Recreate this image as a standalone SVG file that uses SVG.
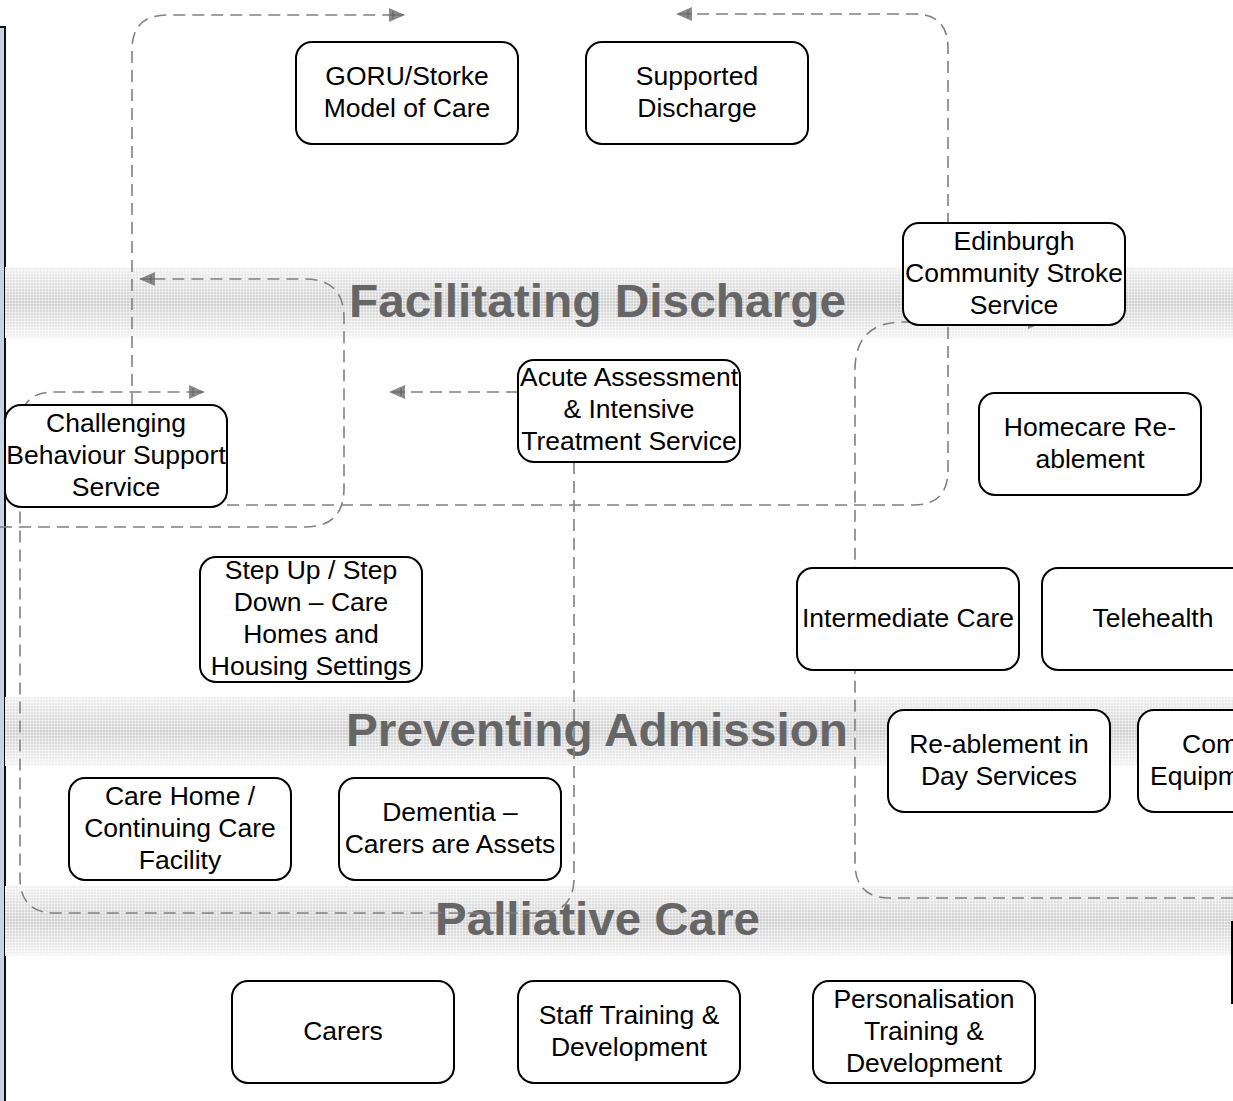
<svg xmlns="http://www.w3.org/2000/svg" width="1233" height="1101" viewBox="0 0 1233 1101">
  <defs>
    <linearGradient id="bandFill" x1="0" y1="0" x2="0" y2="1">
      <stop offset="0" stop-color="#f0f0f0"/>
      <stop offset="0.5" stop-color="#cfcfcf"/>
      <stop offset="1" stop-color="#f4f4f4"/>
    </linearGradient>
    <pattern id="bandGrid" width="3" height="3" patternUnits="userSpaceOnUse">
      <rect x="0" y="0" width="3" height="1" fill="#ffffff" fill-opacity="0.45"/>
      <rect x="0" y="0" width="1" height="3" fill="#ffffff" fill-opacity="0.45"/>
    </pattern>
    <marker id="arrow" viewBox="0 0 16 14" refX="15" refY="7" markerWidth="16" markerHeight="14" markerUnits="userSpaceOnUse" orient="auto">
      <path d="M0,0 L16,7 L0,14 Z" fill="#8a8a8a"/>
      <path d="M4,3 V11 M0,7 H14" stroke="#555" stroke-width="0.8"/>
    </marker>
  </defs>
  <style>
    .band { fill: url(#bandFill); }
    .grid { fill: url(#bandGrid); }
    .title { font-family: "Liberation Sans", Arial, sans-serif; font-weight: bold; font-size: 46px; fill: #666666; }
    .box { fill: #ffffff; stroke: #000000; stroke-width: 2; }
    .label { font-family: "Liberation Sans", Arial, sans-serif; font-size: 26.5px; fill: #000000; text-anchor: middle; }
    .start { text-anchor: start; }
    .flow { fill: none; stroke: #808080; stroke-width: 1.6; stroke-dasharray: 12 7; }
  </style>

  <rect width="1233" height="1101" fill="#ffffff"/>

  <!-- side panel on the left edge -->
  <rect x="-20" y="27" width="25" height="1100" fill="#c6d4e6" stroke="#111111" stroke-width="2"/>

  <!-- horizontal theme bands -->
  <g id="bands">
    <rect class="band" x="5" y="267" width="1228" height="71"/>
    <rect class="grid" x="5" y="267" width="1228" height="71"/>
    <rect class="band" x="5" y="697" width="1228" height="69"/>
    <rect class="grid" x="5" y="697" width="1228" height="69"/>
    <rect class="band" x="5" y="886" width="1228" height="70"/>
    <rect class="grid" x="5" y="886" width="1228" height="70"/>
    <text class="title" x="349" y="317" textLength="497" lengthAdjust="spacingAndGlyphs">Facilitating Discharge</text>
    <text class="title" x="346" y="746" textLength="502" lengthAdjust="spacingAndGlyphs">Preventing Admission</text>
    <text class="title" x="435" y="935" textLength="325" lengthAdjust="spacingAndGlyphs">Palliative Care</text>
  </g>

  <!-- dashed flow connectors -->
  <g id="connectors">
    <path class="flow" d="M132,405 V50 Q132,15 167,15 H404" marker-end="url(#arrow)"/>
    <path class="flow" d="M227,505 H914 Q948,505 948,470 V48 Q948,14 914,14 H677" marker-end="url(#arrow)"/>
    <path class="flow" d="M0,527 H305 Q344,527 344,488 V318 Q344,279 305,279 H140" marker-end="url(#arrow)"/>
    <path class="flow" d="M574,462 V878 Q574,913 539,913 H55 Q20,913 20,878 V426 Q20,392 54,392 H204" marker-end="url(#arrow)"/>
    <path class="flow" d="M518,392 H390" marker-end="url(#arrow)"/>
    <path class="flow" d="M1233,898 H890 Q855,898 855,863 V370 Q855,322 903,322 H1043" marker-end="url(#arrow)"/>
  </g>

  <!-- service nodes -->
  <g id="goru">
    <rect class="box" x="296" y="42" width="222" height="102" rx="16"/>
    <text class="label" x="407" y="85">GORU/Storke</text>
    <text class="label" x="407" y="117">Model of Care</text>
  </g>
  <g id="supported-discharge">
    <rect class="box" x="586" y="42" width="222" height="102" rx="16"/>
    <text class="label" x="697" y="85">Supported</text>
    <text class="label" x="697" y="117">Discharge</text>
  </g>
  <g id="edinburgh-stroke">
    <rect class="box" x="903" y="223" width="222" height="102" rx="16"/>
    <text class="label" x="1014" y="250">Edinburgh</text>
    <text class="label" x="1014" y="282">Community Stroke</text>
    <text class="label" x="1014" y="314">Service</text>
  </g>
  <g id="acute-assessment">
    <rect class="box" x="518" y="360" width="222" height="102" rx="16"/>
    <text class="label" x="629" y="386">Acute Assessment</text>
    <text class="label" x="629" y="418">&amp; Intensive</text>
    <text class="label" x="629" y="450">Treatment Service</text>
  </g>
  <g id="challenging-behaviour">
    <rect class="box" x="5" y="405" width="222" height="102" rx="16"/>
    <text class="label" x="116" y="432">Challenging</text>
    <text class="label" x="116" y="464">Behaviour Support</text>
    <text class="label" x="116" y="496">Service</text>
  </g>
  <g id="homecare-reablement">
    <rect class="box" x="979" y="393" width="222" height="102" rx="16"/>
    <text class="label" x="1090" y="436">Homecare Re-</text>
    <text class="label" x="1090" y="468">ablement</text>
  </g>
  <g id="step-up-step-down">
    <rect class="box" x="200" y="557" width="222" height="125" rx="16"/>
    <text class="label" x="311" y="579">Step Up / Step</text>
    <text class="label" x="311" y="611">Down – Care</text>
    <text class="label" x="311" y="643">Homes and</text>
    <text class="label" x="311" y="675">Housing Settings</text>
  </g>
  <g id="intermediate-care">
    <rect class="box" x="797" y="568" width="222" height="102" rx="16"/>
    <text class="label" x="908" y="627">Intermediate Care</text>
  </g>
  <g id="telehealth">
    <rect class="box" x="1042" y="568" width="222" height="102" rx="16"/>
    <text class="label" x="1153" y="627">Telehealth</text>
  </g>
  <g id="day-services">
    <rect class="box" x="888" y="710" width="222" height="102" rx="16"/>
    <text class="label" x="999" y="753">Re-ablement in</text>
    <text class="label" x="999" y="785">Day Services</text>
  </g>
  <g id="community-equipment">
    <rect class="box" x="1138" y="710" width="222" height="102" rx="16"/>
    <text class="label start" x="1182" y="753">Com</text>
    <text class="label start" x="1150" y="785">Equipm</text>
  </g>
  <g id="care-home">
    <rect class="box" x="69" y="778" width="222" height="102" rx="16"/>
    <text class="label" x="180" y="805">Care Home /</text>
    <text class="label" x="180" y="837">Continuing Care</text>
    <text class="label" x="180" y="869">Facility</text>
  </g>
  <g id="dementia">
    <rect class="box" x="339" y="778" width="222" height="102" rx="16"/>
    <text class="label" x="450" y="821">Dementia –</text>
    <text class="label" x="450" y="853">Carers are Assets</text>
  </g>
  <g id="carers">
    <rect class="box" x="232" y="981" width="222" height="102" rx="16"/>
    <text class="label" x="343" y="1040">Carers</text>
  </g>
  <g id="staff-training">
    <rect class="box" x="518" y="981" width="222" height="102" rx="16"/>
    <text class="label" x="629" y="1024">Staff Training &amp;</text>
    <text class="label" x="629" y="1056">Development</text>
  </g>
  <g id="personalisation-training">
    <rect class="box" x="813" y="981" width="222" height="102" rx="16"/>
    <text class="label" x="924" y="1008">Personalisation</text>
    <text class="label" x="924" y="1040">Training &amp;</text>
    <text class="label" x="924" y="1072">Development</text>
  </g>
  <g id="edge-box">
    <rect class="box" x="1232" y="922" width="120" height="81"/>
  </g>
</svg>
